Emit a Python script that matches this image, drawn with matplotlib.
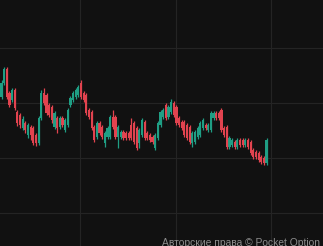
import numpy as np
import matplotlib.pyplot as plt

# candle values (price units, arbitrary scale)
opens = [149, 163, 177, 153, 146, 156, 134, 131, 118, 123, 111, 119, 118, 111, 103, 128, 153, 151, 141, 139,
         119, 128, 119, 128, 116, 121, 141, 146, 149, 151, 163, 153, 151, 136, 134, 119, 109, 123, 119, 103,
         109, 109, 129, 129, 109, 109, 114, 113, 113, 121, 123, 118, 103, 111, 124, 113, 111, 109, 98, 108,
         121, 129, 141, 129, 134, 143, 139, 128, 124, 124, 121, 119, 103, 104, 109, 111, 118, 121, 116, 116,
         128, 133, 133, 136, 118, 119, 99, 101, 104, 99, 106, 106, 101, 106, 104, 96, 94, 93, 89, 88, 83]
closes = [163, 177, 149, 141, 156, 138, 123, 121, 127, 116, 121, 111, 103, 103, 128, 153, 143, 133, 131, 126,
          133, 118, 128, 121, 126, 136, 148, 153, 156, 159, 149, 146, 133, 129, 118, 106, 123, 113, 109, 113,
          118, 129, 119, 109, 119, 114, 108, 108, 108, 108, 104, 98, 116, 126, 108, 108, 106, 104, 111, 123,
          134, 136, 128, 139, 144, 131, 123, 121, 118, 111, 108, 104, 113, 114, 118, 123, 126, 118, 121, 133,
          133, 128, 128, 116, 111, 99, 108, 106, 99, 106, 101, 101, 106, 99, 93, 89, 89, 86, 84, 83, 106]
highs = [166, 179, 179, 155, 158, 158, 136, 133, 130, 125, 123, 121, 120, 113, 130, 156, 158, 153, 143, 141,
         135, 130, 130, 130, 128, 138, 150, 155, 158, 161, 166, 155, 153, 138, 136, 121, 125, 125, 121, 115,
         120, 131, 136, 131, 121, 116, 116, 115, 115, 128, 125, 120, 118, 128, 126, 115, 113, 111, 113, 125,
         136, 138, 143, 141, 147, 145, 141, 130, 126, 126, 123, 121, 115, 116, 120, 125, 128, 123, 123, 135,
         135, 135, 135, 138, 120, 121, 110, 108, 106, 108, 108, 108, 108, 108, 106, 98, 96, 95, 91, 90, 108]
lows = [147, 161, 147, 139, 144, 136, 120, 118, 116, 113, 108, 106, 101, 100, 101, 126, 141, 131, 129, 123,
        117, 113, 117, 119, 114, 119, 139, 144, 147, 149, 147, 144, 131, 127, 116, 104, 107, 111, 107, 99,
        107, 107, 117, 107, 98, 107, 106, 106, 106, 106, 102, 96, 98, 109, 106, 106, 104, 102, 96, 106,
        119, 127, 126, 127, 132, 129, 121, 119, 116, 109, 106, 102, 99, 102, 107, 109, 116, 116, 114, 114,
        126, 126, 126, 114, 109, 97, 97, 99, 97, 97, 99, 99, 99, 97, 91, 87, 87, 84, 82, 81, 81]

up_color = '#1f9e84'
down_color = '#e2434f'
bg = '#111111'

fig = plt.figure(figsize=(3.23, 2.46), dpi=100, facecolor=bg)
ax = fig.add_axes([0, 0, 1, 1], facecolor=bg)

x = np.arange(len(opens))
for i in x:
    o, c, h, l = opens[i], closes[i], highs[i], lows[i]
    col = up_color if c >= o else down_color
    ax.vlines(i, l, h, color=col, linewidth=0.9)
    ax.bar(i, abs(c - o) if c != o else 0.8, bottom=min(o, c), width=0.82, color=col, linewidth=0)

# grid
for gx in [29.8, 65.7, 101.5]:
    ax.axvline(gx, color='#242424', linewidth=0.8, zorder=0)
for gy in [198, 143, 88, 33]:
    ax.axhline(gy, color='#242424', linewidth=0.8, zorder=0)

ax.set_xlim(-0.57, 121.3)
ax.set_ylim(0, 246)
ax.set_xticks([])
ax.set_yticks([])
for s in ax.spines.values():
    s.set_visible(False)

fig.text(0.99, 0.002, 'Авторские права © Pocket Option', color='#8c8c8c',
         fontsize=7.4, family='Liberation Sans', ha='right', va='baseline')

fig.savefig('out.png', dpi=100, facecolor=bg)
